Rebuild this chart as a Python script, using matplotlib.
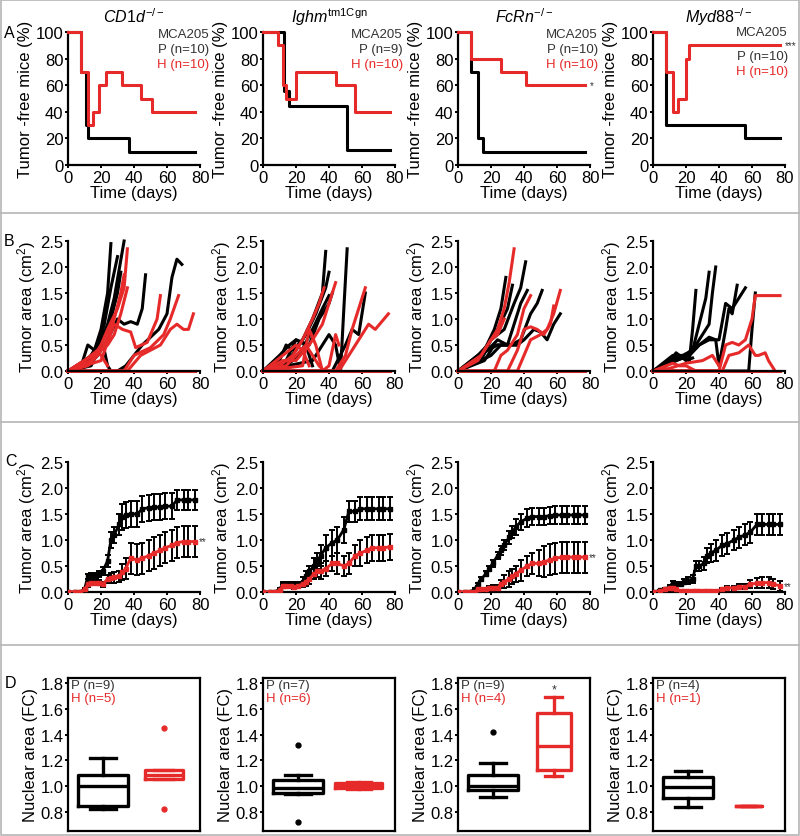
import matplotlib
matplotlib.use("Agg")
import matplotlib.pyplot as plt
from matplotlib.lines import Line2D
from matplotlib.patches import Rectangle

plt.rcParams['font.family'] = ['Liberation Sans', 'DejaVu Sans']
plt.rcParams['mathtext.fontset'] = 'custom'
plt.rcParams['mathtext.rm'] = 'Liberation Sans'
plt.rcParams['mathtext.it'] = 'Liberation Sans:italic'
plt.rcParams['mathtext.bf'] = 'Liberation Sans:bold'

RED = '#e62a2a'
BLK = '#000000'

# ---------------- DATA ----------------
titles = [r'$\mathit{CD1d}^{-/-}$', r'$\mathit{Ighm}^{\mathrm{tm1Cgn}}$',
          r'$\mathit{FcRn}^{-/-}$', r'$\mathit{Myd88}^{-/-}$']
p_labels_A = ['P (n=10)', 'P (n=9)', 'P (n=10)', 'P (n=10)']
h_labels_A = ['H (n=10)', 'H (n=10)', 'H (n=10)', 'H (n=10)']
sig_A = ['', '', '*', '***']

# Row A: Kaplan-Meier (time, % tumor-free)
a_p_t = [[0, 8, 11, 12, 37, 77], [0, 13, 16, 51, 77], [0, 8, 12, 15, 77], [0, 8, 56, 77]]
a_p_s = [[100, 70, 30, 20, 10, 10], [100, 56, 44, 11, 11], [100, 70, 20, 10, 10], [100, 30, 20, 20]]
a_h_t = [[0, 8, 12, 15, 19, 23, 33, 44, 51, 77], [0, 9, 12, 14, 20, 44, 56, 77],
         [0, 8, 26, 41, 77], [0, 8, 12, 15, 20, 22, 77]]
a_h_s = [[100, 70, 30, 40, 60, 70, 60, 50, 40, 40], [100, 90, 60, 50, 70, 60, 40, 40],
         [100, 80, 70, 60, 60], [100, 70, 40, 50, 80, 90, 90]]

# Row B: individual tumor growth curves (time, area)
b1_p = [([0, 8, 12, 16, 20, 24, 26], [0, 0.1, 0.5, 0.4, 0.8, 1.5, 2.45]),
        ([0, 10, 14, 18, 22, 26, 30], [0, 0.2, 0.3, 0.5, 0.9, 1.6, 2.2]),
        ([0, 10, 16, 20, 24, 28, 34], [0, 0.1, 0.3, 0.6, 0.9, 1.4, 2.5]),
        ([0, 12, 18, 22, 24, 26], [0, 0.2, 0.5, 0.4, 0.1, 0]),
        ([0, 12, 18, 24, 30, 34, 38, 42, 45, 47], [0, 0.1, 0.3, 0.6, 1.0, 0.9, 0.95, 0.9, 1.2, 1.85]),
        ([0, 30, 35, 45, 55, 60, 63, 66, 69], [0, 0, 0.1, 0.5, 0.8, 1.1, 1.8, 2.15, 2.05]),
        ([0, 14, 20, 26, 30, 32], [0, 0.1, 0.5, 1.0, 1.5, 1.9])]
b1_h = [([0, 10, 16, 20, 24, 30, 34, 36], [0, 0.2, 0.3, 0.5, 0.8, 1.2, 1.6, 2.35]),
        ([0, 12, 18, 22, 28, 32, 34], [0, 0.1, 0.3, 0.5, 1.0, 1.5, 1.85]),
        ([0, 14, 20, 24, 28, 32, 36], [0, 0.2, 0.4, 0.5, 0.7, 1.1, 1.6]),
        ([0, 20, 28, 33, 38, 41, 48, 54, 56], [0, 0.2, 0.9, 0.8, 0.75, 0.45, 0.55, 1.0, 1.45]),
        ([0, 34, 40, 50, 58, 62, 67], [0, 0, 0.3, 0.45, 0.7, 1.0, 1.45]),
        ([0, 36, 44, 50, 56, 62, 66, 70, 73, 76], [0, 0, 0.3, 0.4, 0.5, 0.8, 0.9, 0.8, 0.8, 1.1]),
        ([0, 12, 18, 24], [0, 0.25, 0.4, 0.1]),
        ([0, 77], [0, 0])]
b2_p = [([0, 10, 14, 18, 24, 30, 36, 38], [0, 0.2, 0.5, 0.4, 0.6, 1.0, 1.5, 2.3]),
        ([0, 12, 20, 26, 32, 38, 40], [0, 0.1, 0.4, 0.7, 1.1, 1.6, 1.9]),
        ([0, 14, 20, 28, 34, 40, 42], [0, 0.2, 0.6, 0.5, 1.0, 1.3, 1.5]),
        ([0, 10, 16, 20, 26, 28, 30], [0, 0.3, 0.5, 0.6, 0.5, 0.3, 0.1]),
        ([0, 30, 40, 44, 47, 49, 51], [0, 0.2, 0.7, 0.5, 0.0, 1.2, 2.35]),
        ([0, 42, 50, 54, 58, 62], [0, 0, 0.5, 0.8, 0.7, 1.5]),
        ([0, 14, 22, 30, 36, 40], [0, 0.1, 0.3, 0.8, 1.2, 1.45])]
b2_h = [([0, 10, 18, 24, 30, 34, 37], [0, 0.1, 0.3, 0.6, 1.0, 1.3, 1.6]),
        ([0, 12, 20, 28, 36, 40, 44], [0, 0.2, 0.2, 0.5, 0.9, 1.3, 1.7]),
        ([0, 14, 20, 26, 30, 34, 37], [0, 0.1, 0.3, 0.5, 0.3, 0.1, 0]),
        ([0, 24, 28, 32, 36, 40, 44, 46], [0, 0.1, 0.8, 0.5, 0.0, 0.1, 0.7, 0.5]),
        ([0, 44, 50, 54, 58, 62], [0, 0, 0.3, 0.8, 1.2, 1.6]),
        ([0, 46, 52, 58, 64, 68, 72, 76], [0, 0, 0.3, 0.6, 0.9, 0.8, 0.95, 1.1]),
        ([0, 8, 14, 20, 24, 28], [0, 0.2, 0.35, 0.5, 0.4, 0.1]),
        ([0, 77], [0, 0])]
b3_p = [([0, 10, 16, 22, 26, 29], [0, 0.2, 0.4, 0.8, 1.2, 1.8]),
        ([0, 12, 18, 24, 30, 33], [0, 0.3, 0.5, 0.8, 1.2, 1.65]),
        ([0, 14, 20, 28, 34, 38, 41], [0, 0.2, 0.6, 0.8, 1.3, 1.6, 2.1]),
        ([0, 12, 18, 24, 30, 34, 38, 42], [0, 0.3, 0.4, 0.6, 0.5, 0.9, 1.3, 1.55]),
        ([0, 14, 20, 26, 32, 38, 44, 48, 51], [0, 0.2, 0.3, 0.5, 0.5, 0.6, 1.1, 1.3, 1.55]),
        ([0, 16, 22, 30, 36, 40, 46, 50, 54, 58, 62], [0, 0.2, 0.5, 0.5, 0.5, 0.6, 0.8, 0.75, 0.6, 0.9, 1.1]),
        ([0, 18, 24, 30, 36], [0, 0.4, 0.5, 0.5, 0.5])]
b3_h = [([0, 12, 18, 24, 28, 31, 34], [0, 0.2, 0.5, 0.8, 1.2, 1.7, 2.35]),
        ([0, 14, 20, 24, 28], [0, 0.3, 0.6, 0.7, 1.0]),
        ([0, 22, 26, 30, 36, 40, 44], [0, 0, 0.3, 0.4, 0.7, 1.2, 1.45]),
        ([0, 30, 36, 40, 44, 48, 52, 56, 58], [0, 0, 0.4, 0.8, 0.85, 0.8, 0.7, 0.9, 1.25]),
        ([0, 36, 40, 44, 50, 54, 58, 62], [0, 0, 0.3, 0.6, 0.7, 0.8, 1.1, 1.55]),
        ([0, 77], [0, 0])]
b4_p = [([0, 10, 16, 22, 24, 26], [0, 0.2, 0.3, 0.2, 0.8, 1.55]),
        ([0, 12, 18, 24, 28, 32, 34], [0, 0.3, 0.3, 0.4, 0.9, 1.4, 1.9]),
        ([0, 12, 20, 26, 30, 34, 36, 38], [0, 0.2, 0.3, 0.5, 0.7, 0.9, 1.5, 2.0]),
        ([0, 14, 22, 28, 34, 38, 40, 44, 46, 48, 51], [0, 0.2, 0.3, 0.5, 0.65, 0.6, 0.1, 0.8, 1.2, 1.1, 1.65]),
        ([0, 14, 22, 28, 34, 40, 44, 48, 52, 56], [0, 0.2, 0.3, 0.5, 0.6, 0.6, 1.3, 1.2, 1.4, 1.6]),
        ([0, 56, 58, 60, 62], [0, 0, 0.0, 0.8, 1.5]),
        ([0, 8, 14, 20, 24], [0, 0.1, 0.35, 0.2, 0.25])]
b4_h = [([0, 10, 20, 30, 36, 40], [0, 0.05, 0.15, 0.2, 0.3, 0.1]),
        ([0, 40, 44, 48, 52, 56, 60, 62, 64, 77], [0, 0, 0.5, 0.55, 0.5, 0.6, 1.0, 1.45, 1.45, 1.45]),
        ([0, 42, 46, 52, 58, 62, 64, 68, 70, 74], [0, 0, 0.3, 0.35, 0.5, 0.3, 0.3, 0.35, 0.2, 0]),
        ([0, 12, 16, 20, 26], [0, 0.15, 0.1, 0.1, 0]),
        ([0, 77], [0, 0])]
b_p = [b1_p, b2_p, b3_p, b4_p]
b_h = [b1_h, b2_h, b3_h, b4_h]

# Row C: mean +/- SEM
t_c = [0, 4, 7, 10, 12, 14, 17, 19, 21, 24, 26, 28, 31, 33, 35, 38, 42, 45, 49, 52, 56, 59, 63, 66, 70, 73, 77]
c1_p = [0, 0, 0, 0.05, 0.3, 0.32, 0.32, 0.35, 0.4, 0.6, 1.0, 1.1, 1.3, 1.45, 1.48, 1.5, 1.5, 1.6, 1.62, 1.63, 1.63, 1.65, 1.65, 1.77, 1.77, 1.77, 1.77]
c1_p_err = [0, 0, 0, 0.02, 0.05, 0.05, 0.05, 0.06, 0.08, 0.12, 0.15, 0.15, 0.2, 0.25, 0.25, 0.25, 0.25, 0.25, 0.25, 0.25, 0.25, 0.25, 0.25, 0.2, 0.2, 0.2, 0.2]
c1_h = [0, 0, 0, 0.05, 0.15, 0.18, 0.18, 0.18, 0.15, 0.25, 0.27, 0.28, 0.3, 0.38, 0.45, 0.65, 0.62, 0.65, 0.7, 0.75, 0.8, 0.85, 0.9, 0.95, 0.97, 0.97, 0.97]
c1_h_err = [0, 0, 0, 0.02, 0.05, 0.05, 0.05, 0.05, 0.05, 0.08, 0.1, 0.1, 0.1, 0.15, 0.2, 0.3, 0.3, 0.3, 0.3, 0.3, 0.3, 0.3, 0.3, 0.3, 0.3, 0.3, 0.3]
c2_p = [0, 0, 0, 0.05, 0.15, 0.15, 0.15, 0.15, 0.15, 0.2, 0.3, 0.4, 0.5, 0.6, 0.7, 0.85, 0.95, 1.0, 1.2, 1.55, 1.55, 1.6, 1.6, 1.6, 1.6, 1.6, 1.6]
c2_p_err = [0, 0, 0, 0.02, 0.05, 0.05, 0.05, 0.05, 0.05, 0.08, 0.1, 0.1, 0.15, 0.15, 0.2, 0.25, 0.25, 0.25, 0.25, 0.2, 0.2, 0.22, 0.22, 0.22, 0.22, 0.22, 0.22]
c2_h = [0, 0, 0, 0.03, 0.12, 0.12, 0.12, 0.1, 0.12, 0.15, 0.2, 0.25, 0.35, 0.4, 0.4, 0.45, 0.55, 0.55, 0.5, 0.55, 0.7, 0.75, 0.8, 0.85, 0.85, 0.85, 0.87]
c2_h_err = [0, 0, 0, 0.02, 0.04, 0.04, 0.05, 0.05, 0.05, 0.05, 0.08, 0.1, 0.1, 0.12, 0.15, 0.15, 0.15, 0.2, 0.2, 0.2, 0.2, 0.25, 0.25, 0.25, 0.25, 0.25, 0.25]
c3_p = [0, 0, 0, 0.05, 0.15, 0.25, 0.35, 0.45, 0.55, 0.7, 0.8, 0.9, 1.05, 1.15, 1.25, 1.35, 1.42, 1.45, 1.45, 1.45, 1.47, 1.48, 1.48, 1.48, 1.48, 1.48, 1.48]
c3_p_err = [0, 0, 0, 0.02, 0.03, 0.04, 0.05, 0.05, 0.06, 0.07, 0.08, 0.1, 0.12, 0.12, 0.15, 0.15, 0.17, 0.17, 0.17, 0.17, 0.17, 0.17, 0.17, 0.17, 0.17, 0.17, 0.17]
c3_h = [0, 0, 0, 0, 0.05, 0.05, 0.05, 0.08, 0.08, 0.08, 0.15, 0.2, 0.25, 0.3, 0.35, 0.42, 0.5, 0.55, 0.55, 0.58, 0.62, 0.65, 0.67, 0.67, 0.67, 0.67, 0.67]
c3_h_err = [0, 0, 0, 0, 0.02, 0.03, 0.03, 0.04, 0.05, 0.05, 0.08, 0.12, 0.15, 0.15, 0.15, 0.2, 0.2, 0.2, 0.25, 0.3, 0.3, 0.3, 0.3, 0.3, 0.3, 0.3, 0.3]
c4_p = [0, 0.03, 0.05, 0.1, 0.18, 0.15, 0.15, 0.2, 0.22, 0.25, 0.5, 0.5, 0.55, 0.7, 0.75, 0.8, 0.9, 0.93, 1.0, 1.05, 1.1, 1.15, 1.3, 1.3, 1.3, 1.3, 1.3]
c4_p_err = [0, 0.01, 0.02, 0.03, 0.04, 0.04, 0.04, 0.05, 0.06, 0.08, 0.1, 0.1, 0.12, 0.15, 0.18, 0.2, 0.2, 0.2, 0.2, 0.2, 0.2, 0.2, 0.2, 0.2, 0.2, 0.2, 0.2]
c4_h = [0, 0.02, 0.05, 0.08, 0.08, 0.05, 0.02, 0.02, 0.02, 0.02, 0.02, 0.02, 0.02, 0.02, 0.02, 0.02, 0.05, 0.08, 0.08, 0.1, 0.1, 0.15, 0.17, 0.18, 0.18, 0.15, 0.12]
c4_h_err = [0, 0, 0, 0, 0, 0, 0, 0, 0, 0, 0, 0, 0, 0, 0, 0, 0.02, 0.04, 0.04, 0.05, 0.05, 0.08, 0.1, 0.1, 0.1, 0.1, 0.1]
c_p = [(c1_p, c1_p_err), (c2_p, c2_p_err), (c3_p, c3_p_err), (c4_p, c4_p_err)]
c_h = [(c1_h, c1_h_err), (c2_h, c2_h_err), (c3_h, c3_h_err), (c4_h, c4_h_err)]
sig_C = ['**', '', '**', '**']

# Row D: box statistics (whislo, q1, med, q3, whishi, fliers)
d_p = [dict(whislo=0.82, q1=0.85, med=1.00, q3=1.09, whishi=1.22, fliers=[]),
       dict(whislo=0.94, q1=0.95, med=0.99, q3=1.05, whishi=1.09, fliers=[1.32, 0.72]),
       dict(whislo=0.92, q1=0.97, med=1.00, q3=1.09, whishi=1.18, fliers=[1.42]),
       dict(whislo=0.84, q1=0.91, med=0.995, q3=1.07, whishi=1.12, fliers=[])]
d_h = [dict(whislo=1.06, q1=1.06, med=1.09, q3=1.13, whishi=1.13, fliers=[1.45, 0.82]),
       dict(whislo=0.98, q1=0.985, med=1.00, q3=1.025, whishi=1.03, fliers=[]),
       dict(whislo=1.08, q1=1.13, med=1.31, q3=1.57, whishi=1.69, fliers=[]),
       dict(whislo=0.85, q1=0.85, med=0.85, q3=0.85, whishi=0.85, fliers=[])]
p_labels_D = ['P (n=9)', 'P (n=7)', 'P (n=9)', 'P (n=4)']
h_labels_D = ['H (n=5)', 'H (n=6)', 'H (n=4)', 'H (n=1)']
sig_D = ['', '', '*', '']

# ---------------- LAYOUT ----------------
W, H = 800, 837
fig = plt.figure(figsize=(W / 100, H / 100), dpi=100)
lefts = [68, 263, 458, 653]
aw = 132
rows = {'A': (33, 166), 'B': (242, 372), 'C': (463, 593), 'D': (679, 832)}


def mk_ax(col, row):
    top, bot = rows[row]
    return fig.add_axes([lefts[col] / W, 1 - bot / H, aw / W, (bot - top) / H])


FS = 12
TFS = 12


def style(ax, full=False):
    for s in ['top', 'right']:
        ax.spines[s].set_visible(full)
    for s in ax.spines.values():
        s.set_linewidth(1.6)
    ax.tick_params(direction='out', length=2.5, width=1.4, labelsize=TFS, pad=0.8)


xt = [0, 20, 40, 60, 80]
txt_y = [(98.5, 87, 76), (98.5, 87, 76), (98.5, 87, 76), (100, 82, 71)]
txt_x = [1.07, 1.06, 1.06, 1.02]
for i in range(4):
    # Row A
    ax = mk_ax(i, 'A')
    ax.step(a_p_t[i], a_p_s[i], where='post', color=BLK, lw=2.2, zorder=3)
    ax.step(a_h_t[i], a_h_s[i], where='post', color=RED, lw=2.2, zorder=4)
    ax.set_xlim(0, 80)
    ax.set_ylim(0, 100)
    ax.set_xticks(xt)
    ax.set_yticks([0, 20, 40, 60, 80, 100])
    style(ax)
    ax.set_ylabel('Tumor -free mice (%)', fontsize=FS, labelpad=2)
    ax.set_xlabel('Time (days)', fontsize=FS, labelpad=0)
    ax.set_title(titles[i], fontsize=11.5, pad=7)
    xr = txt_x[i]
    y0, y1, y2 = txt_y[i]
    tr = ax.get_yaxis_transform()
    ax.text(xr, y0, 'MCA205', transform=tr, ha='right', va='center', fontsize=9.5, color='#333333')
    ax.text(xr, y1, p_labels_A[i], transform=tr, ha='right', va='center', fontsize=9.5, color='#333333')
    ax.text(xr, y2, h_labels_A[i], transform=tr, ha='right', va='center', fontsize=9.5, color=RED)
    if sig_A[i]:
        ax.text(80, a_h_s[i][-1], sig_A[i], ha='left', va='center', fontsize=7, color='#333333')
    for ln in ax.lines:
        ln.set_clip_on(False)

    # Row B
    ax = mk_ax(i, 'B')
    for t, v in b_p[i]:
        ax.plot(t, v, color=BLK, lw=2.2, solid_joinstyle='round')
    for t, v in b_h[i]:
        ax.plot(t, v, color=RED, lw=2.2, solid_joinstyle='round')
    ax.set_xlim(0, 80)
    ax.set_ylim(0, 2.5)
    ax.set_xticks(xt)
    ax.set_yticks([0, 0.5, 1.0, 1.5, 2.0, 2.5])
    ax.set_yticklabels(['0.0', '0.5', '1.0', '1.5', '2.0', '2.5'])
    style(ax)
    ax.set_ylabel('Tumor area (cm$^2$)', fontsize=FS, labelpad=2)
    ax.set_xlabel('Time (days)', fontsize=FS, labelpad=0)
    for ln in ax.lines:
        ln.set_clip_on(False)

    # Row C
    ax = mk_ax(i, 'C')
    m, e = c_p[i]
    ax.errorbar(t_c, m, yerr=e, color=BLK, lw=2, ecolor=BLK, elinewidth=1.4, capsize=2.5, capthick=1.4,
                marker='s', ms=2.5, zorder=3)
    m, e = c_h[i]
    ax.errorbar(t_c, m, yerr=e, color=RED, lw=2, ecolor=BLK, elinewidth=1.4, capsize=2.5, capthick=1.4,
                marker='s', ms=2.5, mfc=RED, mec=RED, zorder=4)
    ax.set_xlim(0, 80)
    ax.set_ylim(0, 2.5)
    ax.set_xticks(xt)
    ax.set_yticks([0, 0.5, 1.0, 1.5, 2.0, 2.5])
    ax.set_yticklabels(['0.0', '0.5', '1.0', '1.5', '2.0', '2.5'])
    style(ax)
    ax.set_ylabel('Tumor area (cm$^2$)', fontsize=FS, labelpad=2)
    ax.set_xlabel('Time (days)', fontsize=FS, labelpad=0)
    if sig_C[i]:
        ax.text(79, c_h[i][0][-1], sig_C[i], ha='left', va='center', fontsize=7, color='#333333')

    # Row D
    ax = mk_ax(i, 'D')
    st_p = dict(d_p[i])
    st_h = dict(d_h[i])
    ax.bxp([st_p], positions=[0.265], widths=[0.38], showfliers=True,
           boxprops=dict(color=BLK, lw=2.4), medianprops=dict(color=BLK, lw=2.4),
           whiskerprops=dict(color=BLK, lw=2.4), capprops=dict(color=BLK, lw=2.4),
           flierprops=dict(marker='o', mfc=BLK, mec=BLK, ms=3.5))
    wh = [0.29, 0.36, 0.26, 0.2][i]
    ax.bxp([st_h], positions=[0.725], widths=[wh], showfliers=True,
           boxprops=dict(color=RED, lw=2.4), medianprops=dict(color=RED, lw=2.4),
           whiskerprops=dict(color=RED, lw=2.4), capprops=dict(color=RED, lw=2.4),
           flierprops=dict(marker='o', mfc=RED, mec=RED, ms=3.5))
    ax.set_xlim(0, 1)
    ax.set_ylim(0.653, 1.84)
    ax.set_xticks([])
    ax.set_yticks([0.8, 1.0, 1.2, 1.4, 1.6, 1.8])
    ax.set_yticklabels(['0.8', '1.0', '1.2', '1.4', '1.6', '1.8'])
    style(ax, full=True)
    ax.set_ylabel('Nuclear area (FC)', fontsize=FS, labelpad=2)
    ax.text(0.02, 0.995, p_labels_D[i], transform=ax.transAxes, ha='left', va='top', fontsize=9.5, color='#333333')
    ax.text(0.02, 0.91, h_labels_D[i], transform=ax.transAxes, ha='left', va='top', fontsize=9.5, color=RED)
    if sig_D[i]:
        ax.text(0.725, st_h['whishi'] + 0.06, sig_D[i], ha='center', va='center', fontsize=9, color='#333333')

# Panel letters
for lab, (x, y) in {'A': (9, 33), 'B': (9, 242), 'C': (11, 461), 'D': (10, 684)}.items():
    fig.text(x / W, 1 - y / H, lab, ha='center', va='center', fontsize=11.5)

# Separators and border
for y in [214, 423, 646]:
    fig.add_artist(Line2D([0, 1], [1 - y / H, 1 - y / H], color='#b5b5b5', lw=1.2, transform=fig.transFigure))
fig.add_artist(Rectangle((0.001, 0.001), 0.998, 0.998, fill=False, ec='#b5b5b5', lw=1.2, transform=fig.transFigure))

fig.savefig('out.png', dpi=100)
